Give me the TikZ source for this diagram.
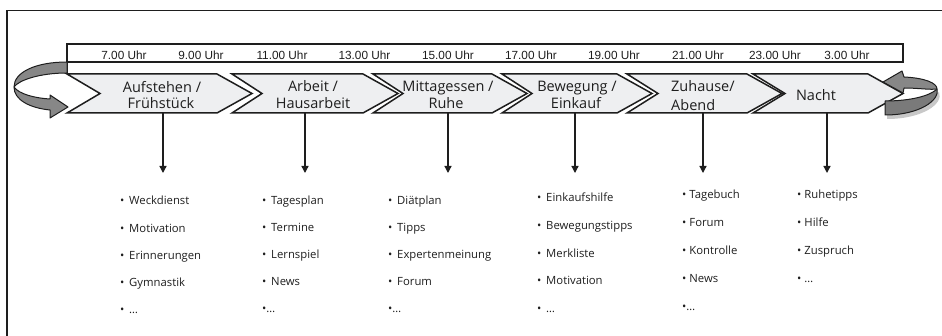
\documentclass[tikz,border=0pt]{standalone}
\usepackage{fontspec}
\setmainfont{Open Sans}
\newfontfamily\timefont{Liberation Sans}
\usetikzlibrary{arrows.meta}
\definecolor{ink}{HTML}{1E1E1E}
\definecolor{chev}{HTML}{EEEFF1}
\definecolor{ribbon}{HTML}{878787}
\definecolor{ribbondark}{HTML}{7A7A7A}
\definecolor{shadowc}{HTML}{C8C8C8}
\newcommand\bul{\textbullet\hspace{4.8pt}}
\newcommand\chevshape[3]{\draw[chevron] (#1,74) -- (#2,74) -- ({#2+35},93.5) -- (#2,113) -- (#1,113) -- ({#1+#3},93.5) -- cycle;}
\begin{document}
\begin{tikzpicture}[x=1pt,y=-1pt,
  chevron/.style={draw=ink, fill=chev, line width=1.5pt, line join=miter},
  lbl/.style={font=\fontsize{14.5}{17}\selectfont, inner sep=0pt, anchor=base, text=ink},
  tm/.style={font=\timefont\fontsize{11.8}{14}\selectfont, inner sep=0pt, anchor=base, text=ink},
  item/.style={font=\fontsize{11.3}{13}\selectfont, inner sep=0pt, anchor=base west, text=ink},
  down/.style={draw=ink, line width=1.3pt, -{Triangle[width=7pt,length=7pt]}},
  ribbonst/.style={draw=ink, fill=ribbon, line width=1pt, line join=round},
  frameline/.style={draw=ink, line width=1.8pt}]
\useasboundingbox (0,0) rectangle (942,336);
% frame (only left and top visible)
\draw[frameline] (7,337) -- (7,10.5) -- (943,10.5);
% time bar
\draw[ink, line width=1.5pt] (67,44) rectangle (903,62);
\draw[ink, line width=1.5pt] (67,62) -- (67,74);
\foreach \t/\x [count=\i] in {7.00 Uhr/124, 9.00 Uhr/201, 11.00 Uhr/282, 13.00 Uhr/364.5, 15.00 Uhr/448, 17.00 Uhr/531, 19.00 Uhr/614, 21.00 Uhr/698, 23.00 Uhr/775, 3.00 Uhr/847}
  \node[tm] (time\i) at (\x,60) {\t};
% chevrons
\chevshape{67}{217}{33}
\chevshape{232}{363}{30}
\chevshape{373}{492}{30}
\chevshape{502}{617}{30}
\chevshape{627}{747}{31}
\chevshape{753}{868}{32}
% chevron labels
\node[lbl] (c1a) at (162,93) {Aufstehen /};
\node[lbl] (c1b) at (161,109) {Frühstück};
\node[lbl] (c2a) at (313,92) {Arbeit /};
\node[lbl] (c2b) at (313,109) {Hausarbeit};
\node[lbl] (c3a) at (448,92) {Mittagessen /};
\node[lbl] (c3b) at (446,109) {Ruhe};
\node[lbl] (c4a) at (577,92) {Bewegung /};
\node[lbl] (c4b) at (576,109) {Einkauf};
\node[lbl, anchor=base west] (c5a) at (671,92) {Zuhause/};
\node[lbl, anchor=base west] (c5b) at (671,111) {Abend};
\node[lbl] (c6a) at (816,101) {Nacht};
% left circular arrow
\draw[ribbonst] (67,62) .. controls (36,62) and (14,72) .. (14,87) .. controls (19,80) and (40,73) .. (67,73) -- cycle;
\draw[ribbonst] (14,87) .. controls (14,100) and (30,108) .. (50,110) -- (50,118) -- (68,107) -- (50,95) -- (50,99) .. controls (34,98) and (19,94) .. (14,87) -- cycle;
% right circular arrow
\fill[shadowc] (887,104) .. controls (910,104) and (932,99) .. (939,92) .. controls (944,104) and (922,119) .. (887,119) -- cycle;
\draw[ribbonst, fill=ribbondark] (885,101) .. controls (910,101) and (930,96) .. (937,89) .. controls (940,100) and (920,115) .. (885,115) -- cycle;
\draw[ribbonst] (904,88) -- (903,93) -- (883,82) -- (902,71) -- (904,77) .. controls (925,78) and (937,83) .. (937,89) .. controls (930,90) and (918,88) .. (904,88) -- cycle;
% down arrows
\foreach \x [count=\i] in {163,305,448,575,703,827} {
  \coordinate (b\i) at (\x,113.5);
  \coordinate (e\i) at (\x,173);
  \draw[down] (b\i) -- (e\i);
}
% lists
\foreach \t [count=\i from 0] in {\bul Weckdienst,\bul Motivation,\bul Erinnerungen,\bul Gymnastik,\bul …}
  \node[item] (la\i) at (120,{205+27.2*\i}) {\t};
\foreach \t [count=\i from 0] in {\bul Tagesplan,\bul Termine,\bul Lernspiel,\bul News,\textbullet…}
  \node[item] (lb\i) at (262,{205+27*\i}) {\t};
\foreach \t [count=\i from 0] in {\bul Diätplan,\bul Tipps,\bul Expertenmeinung,\bul Forum,\textbullet…}
  \node[item] (lc\i) at (388,{205+27*\i}) {\t};
\foreach \t [count=\i from 0] in {\bul Einkaufshilfe,\bul Bewegungstipps,\bul Merkliste,\bul Motivation,\bul …}
  \node[item] (ld\i) at (537,{202+27.6*\i}) {\t};
\foreach \t [count=\i from 0] in {\textbullet\hspace{3pt}Tagebuch,\textbullet\hspace{3pt}Forum,\textbullet\hspace{3pt}Kontrolle,\textbullet\hspace{3pt}News,\textbullet…}
  \node[item] (le\i) at (682,{199+27.8*\i}) {\t};
\foreach \t [count=\i from 0] in {\textbullet\hspace{3pt}Ruhetipps,\textbullet\hspace{3pt}Hilfe,\textbullet\hspace{3pt}Zuspruch,\textbullet\hspace{3pt}…}
  \node[item] (lf\i) at (797,{199+27.8*\i}) {\t};
\end{tikzpicture}
\end{document}
